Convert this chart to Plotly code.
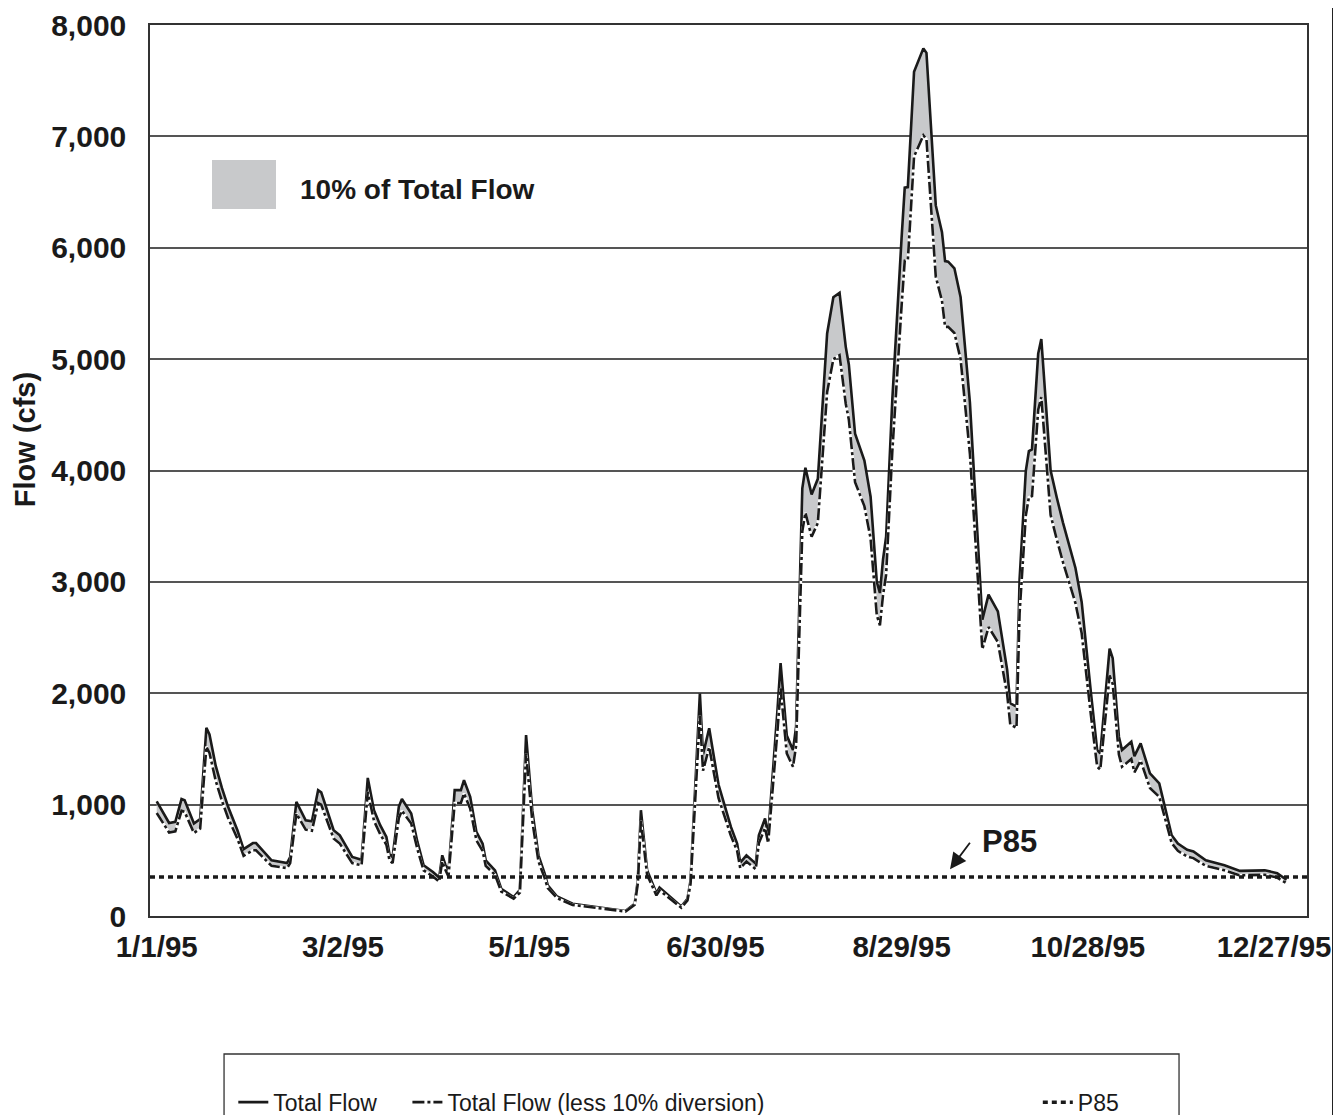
import pandas as pd
import plotly.graph_objects as go

# ---------------- data ----------------
day_of_year = [0, 4, 6, 8, 9, 12, 14, 16, 17, 19, 21, 23, 26, 28, 31, 32, 37, 42, 43, 45,
               48, 50, 52, 53, 57, 59, 63, 66, 68, 70, 72, 74, 75, 76, 78, 79, 82, 84, 86, 89,
               91, 92, 93, 94, 96, 98, 99, 101, 103, 105, 106, 109, 111, 115, 117, 119, 121, 123, 125, 126,
               129, 134, 151, 154, 155, 156, 158, 161, 162, 169, 171, 172, 175, 176, 178, 181, 185, 187, 188, 190,
               193, 194, 196, 197, 200, 201, 203, 205, 206, 208, 209, 211, 213, 216, 218, 220, 222, 223, 225, 228,
               230, 232, 233, 234, 235, 237, 240, 241, 242, 244, 247, 248, 251, 253, 254, 255, 257, 259, 262, 264,
               266, 268, 271, 274, 275, 277, 278, 280, 281, 282, 284, 285, 287, 288, 290, 292, 296, 298, 301, 303,
               304, 307, 308, 310, 311, 314, 315, 317, 320, 323, 327, 329, 332, 334, 338, 344, 349, 357, 361, 364]

total_flow = [1030, 835, 845, 1050, 1040, 830, 870, 1690, 1630, 1350, 1150, 980, 770, 600, 655, 655, 500, 475, 530, 1025,
              860, 850, 1130, 1110, 770, 725, 530, 505, 1240, 950, 815, 710, 555, 530, 980, 1050, 920, 665, 455, 395,
              345, 545, 460, 395, 1130, 1130, 1220, 1070, 755, 650, 500, 410, 245, 170, 235, 1625, 950, 545, 380, 275,
              175, 110, 45, 110, 320, 950, 410, 205, 255, 85, 155, 320, 2000, 1450, 1685, 1180, 800, 650, 480, 545,
              470, 725, 875, 725, 1850, 2270, 1620, 1490, 1700, 3840, 4025, 3785, 3925, 5230, 5555, 5595, 5110, 4950, 4330, 4090,
              3765, 3000, 2900, 3200, 3405, 4640, 6095, 6540, 6545, 7580, 7790, 7750, 6380, 6140, 5880, 5875, 5815, 5555, 4610, 3650,
              2660, 2885, 2735, 2210, 1910, 1880, 3020, 3995, 4175, 4190, 5050, 5180, 4370, 4000, 3755, 3530, 3125, 2820, 2000, 1490,
              1460, 2400, 2315, 1610, 1490, 1565, 1435, 1550, 1280, 1190, 725, 650, 595, 580, 500, 455, 405, 410, 385, 325]

total_less_diversion = [925, 750, 760, 945, 935, 745, 785, 1520, 1465, 1215, 1035, 880, 695, 540, 590, 590, 450, 430, 475, 920,
                        775, 765, 1015, 1000, 695, 650, 475, 455, 1115, 855, 735, 640, 500, 475, 880, 945, 830, 600, 410, 355,
                        310, 490, 415, 355, 1015, 1015, 1100, 965, 680, 585, 450, 370, 220, 155, 210, 1460, 855, 490, 340, 250,
                        160, 100, 40, 100, 290, 855, 370, 185, 230, 75, 140, 290, 1800, 1305, 1515, 1060, 720, 585, 430, 490,
                        420, 655, 790, 655, 1665, 2045, 1460, 1340, 1530, 3455, 3620, 3405, 3530, 4705, 5000, 5035, 4600, 4455, 3895, 3680,
                        3390, 2700, 2610, 2880, 3065, 4175, 5485, 5885, 5890, 6820, 7010, 6975, 5740, 5525, 5290, 5290, 5235, 5000, 4150, 3285,
                        2395, 2595, 2460, 1990, 1720, 1690, 2720, 3595, 3760, 3770, 4545, 4660, 3935, 3600, 3380, 3175, 2810, 2540, 1800, 1340,
                        1315, 2160, 2085, 1450, 1340, 1410, 1290, 1395, 1150, 1070, 655, 585, 535, 520, 450, 410, 365, 370, 345, 295]

p85_flow = 350

tick_labels = ["1/1/95", "3/2/95", "5/1/95", "6/30/95", "8/29/95", "10/28/95", "12/27/95"]
y_ticks = [0, 1000, 2000, 3000, 4000, 5000, 6000, 7000, 8000]

# ---------------- build ----------------
base = pd.Timestamp("1995-01-01")
dates = (base + pd.to_timedelta(day_of_year, unit="D")).strftime("%Y-%m-%d").tolist()
tick_dates = pd.to_datetime(tick_labels, format="%m/%d/%y").strftime("%Y-%m-%d").tolist()
x_lo = (base + pd.Timedelta(days=-2.16)).strftime("%Y-%m-%d %H:%M")
x_hi = (base + pd.Timedelta(days=370.6)).strftime("%Y-%m-%d %H:%M")

FONT = "Arial, 'Liberation Sans', Helvetica, sans-serif"
GRAY = "#c8c9cb"
INK = "#1a1a1a"
NB = "\u00a0"

fig = go.Figure()

# shaded band = 10% of total flow
fig.add_trace(go.Scatter(x=dates, y=total_less_diversion, mode="lines",
                         line=dict(width=0, color=GRAY), showlegend=False, hoverinfo="skip"))
fig.add_trace(go.Scatter(x=dates, y=total_flow, mode="lines", fill="tonexty", fillcolor=GRAY,
                         line=dict(width=0.8, color=GRAY), showlegend=False, hoverinfo="skip"))

fig.add_trace(go.Scatter(x=dates, y=total_flow, mode="lines", name="Total Flow" + NB * 4,
                         line=dict(color=INK, width=2.6)))
fig.add_trace(go.Scatter(x=dates, y=total_less_diversion, mode="lines", showlegend=False,
                         line=dict(color="white", width=2.6), hoverinfo="skip"))
fig.add_trace(go.Scatter(x=dates, y=total_less_diversion, mode="lines",
                         name="Total Flow (less 10% diversion)" + NB * 42,
                         line=dict(color=INK, width=2.6, dash="12px,3px,3px,3px")))
fig.add_trace(go.Scatter(x=[x_lo, x_hi], y=[p85_flow, p85_flow], mode="lines", name="P85",
                         line=dict(color=INK, width=3.5, dash="5px,4px")))

fig.update_layout(
    width=1333, height=1107,
    margin=dict(l=142, r=34, t=17, b=199, autoexpand=False),
    paper_bgcolor="white", plot_bgcolor="white",
    font=dict(family=FONT, color=INK),
    legend=dict(orientation="h", x=0.072, xanchor="left", y=-0.209, yanchor="middle",
                font=dict(size=23, family=FONT, color=INK),
                bgcolor="rgba(0,0,0,0)", borderwidth=0, itemwidth=30, traceorder="normal"),
    xaxis=dict(type="date", range=[x_lo, x_hi], tickvals=tick_dates, ticktext=tick_labels,
               showgrid=False, zeroline=False, showline=True, linecolor="#333", linewidth=1.5,
               mirror=True, ticks="", ticklabelstandoff=4, automargin=False,
               tickfont=dict(size=29.5, family=FONT, weight="bold", color=INK)),
    yaxis=dict(range=[0, 8000], tickvals=y_ticks, tickformat=",d",
               showgrid=True, gridcolor="#555", gridwidth=1.6, zeroline=False,
               showline=True, linecolor="#333", linewidth=1.5, mirror=True, ticks="",
               ticklabelstandoff=16, automargin=False,
               tickfont=dict(size=30, family=FONT, weight="bold", color=INK)),
    shapes=[
        # key swatch for the shaded band
        dict(type="rect", xref="paper", yref="paper", x0=0.0536, x1=0.1089, y0=0.7935, y1=0.8485,
             fillcolor=GRAY, line=dict(width=0)),
        # legend frame
        dict(type="rect", xref="paper", yref="paper", x0=0.064, x1=0.8894, y0=-0.1549, y1=-0.32,
             line=dict(color="#333", width=1.3), fillcolor="rgba(0,0,0,0)"),
        # outer frame line on the right
        dict(type="line", xref="paper", yref="paper", x0=1.0223, x1=1.0223, y0=-0.24, y1=1.03,
             line=dict(color="#222", width=1.6)),
    ],
    annotations=[
        dict(text="Flow (cfs)", xref="paper", yref="paper", x=-0.108, y=0.534, textangle=-90,
             xanchor="center", yanchor="middle",
             showarrow=False, font=dict(size=29, family=FONT, weight="bold", color=INK)),
        dict(text="10% of Total Flow", xref="paper", yref="paper", x=0.128, y=0.8159,
             xanchor="left", yanchor="middle", showarrow=False,
             font=dict(size=28, family=FONT, weight="bold", color=INK)),
        dict(text="P85", x=(base + pd.Timedelta(days=274.6)).strftime("%Y-%m-%d %H:%M"), y=666,
             xanchor="center", yanchor="middle", showarrow=False,
             font=dict(size=31, family=FONT, weight="bold", color=INK)),
        dict(text="", x=(base + pd.Timedelta(days=255.6)).strftime("%Y-%m-%d %H:%M"), y=420,
             showarrow=True, ax=21, ay=-28, arrowhead=2, arrowsize=1.8, arrowwidth=1.8,
             arrowcolor=INK, standoff=0),
    ],
)

fig.write_html("out.html")
